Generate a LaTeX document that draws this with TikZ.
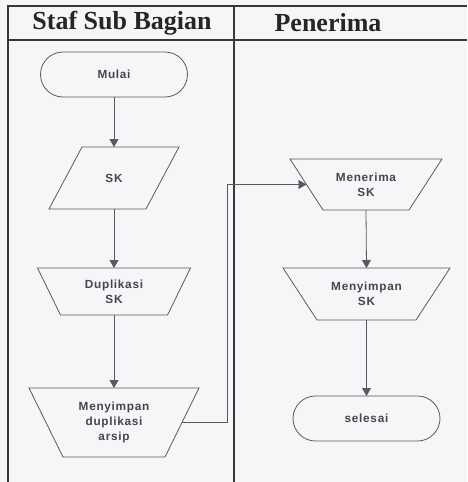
\documentclass[tikz,border=0pt]{standalone}
\usepackage{fontspec}
\setmainfont{Liberation Serif}
\newfontfamily\flowfont[LetterSpace=6]{Liberation Sans}
\usetikzlibrary{arrows.meta,calc}

\definecolor{paper}{RGB}{246,245,248}
\definecolor{frameline}{RGB}{55,55,58}
\definecolor{shapeline}{RGB}{90,90,94}
\definecolor{inktext}{RGB}{70,70,75}

\tikzset{
  laneline/.style={draw=frameline, line width=1.2pt},
  shapeline/.style={draw=shapeline, line width=0.8pt, line join=miter},
  slot/.style={inner sep=0pt, outer sep=0pt, align=center, text=inktext,
    font=\flowfont\bfseries\fontsize{11.8}{14.8}\selectfont},
  terminal/.style={slot, draw=shapeline, line width=0.8pt, rounded corners=22.5pt,
    minimum width=147pt, minimum height=45pt},
  flowarrow/.style={draw=shapeline, line width=0.8pt, -{Triangle[length=8pt,width=9pt]}},
  lanehead/.style={font=\bfseries\fontsize{26}{29}\selectfont, text=black!85, inner sep=0pt}
}

\begin{document}
\begin{tikzpicture}[x=1pt,y=-1pt]
  % page
  \fill[paper] (0,0) rectangle (467,482);
  \useasboundingbox (0,0) rectangle (467,482);

  % swimlane frame
  \draw[laneline] (8,482) -- (8,6) -- (467,6);
  \draw[laneline] (8,40) -- (467,40);
  \draw[laneline] (234,6) -- (234,482);

  \node[lanehead] (laneA) at (122,23) {Staf Sub Bagian};
  \node[lanehead] (laneB) at (328,23) {Penerima};

  % left lane
  \node[terminal] (mulai) at (114,74.5) {Mulai};

  \node[slot, minimum width=130pt, minimum height=62pt] (sk) at (114,178) {SK};
  \draw[shapeline] ($(sk.north west)+(33,0)$) -- (sk.north east)
    -- ($(sk.south east)+(-33,0)$) -- (sk.south west) -- cycle;

  \node[slot, minimum width=153pt, minimum height=47pt] (dup) at (114,291.5) {Duplikasi\\SK};
  \draw[shapeline] (dup.north west) -- (dup.north east)
    -- ($(dup.south east)+(-23,0)$) -- ($(dup.south west)+(23,0)$) -- cycle;

  \node[slot, minimum width=170pt, minimum height=69pt] (arsip) at (114,422.5) {Menyimpan\\duplikasi\\arsip};
  \draw[shapeline] (arsip.north west) -- (arsip.north east)
    -- ($(arsip.south east)+(-34,0)$) -- ($(arsip.south west)+(34,0)$) -- cycle;

  % right lane
  \node[slot, minimum width=152pt, minimum height=51pt] (terima) at (366,184.5) {Menerima\\SK};
  \draw[shapeline] (terima.north west) -- (terima.north east)
    -- ($(terima.south east)+(-33,0)$) -- ($(terima.south west)+(33,0)$) -- cycle;

  \node[slot, minimum width=167pt, minimum height=52pt] (simpan) at (366.5,294) {Menyimpan\\SK};
  \draw[shapeline] (simpan.north west) -- (simpan.north east)
    -- ($(simpan.south east)+(-34,0)$) -- ($(simpan.south west)+(34,0)$) -- cycle;

  \node[terminal] (selesai) at (366.5,418.5) {selesai};

  % flow
  \draw[flowarrow] (mulai.south) -- (sk.north -| mulai.south);
  \draw[flowarrow] (sk.south) -- (dup.north);
  \draw[flowarrow] (dup.south) -- (arsip.north);
  \draw[flowarrow] ($(arsip.east)+(-17,0)$) -- ++(45,0)
    |- ($(terima.west)+(16.5,0)$);
  \draw[flowarrow] (terima.south) -- (simpan.north);
  \draw[flowarrow] (simpan.south) -- (selesai.north);
\end{tikzpicture}
\end{document}
